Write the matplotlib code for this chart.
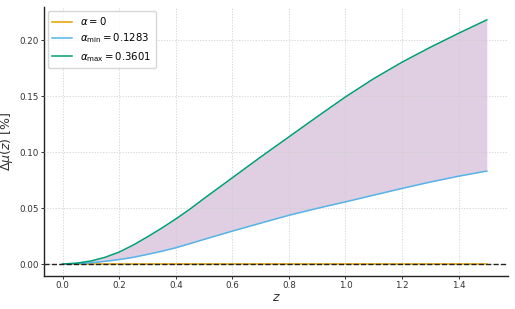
import numpy as np
import matplotlib
matplotlib.use("Agg")
import matplotlib.pyplot as plt

# redshift grid and read-off curves (in %)
z = [0.0, 0.05, 0.1, 0.15, 0.2, 0.25, 0.3, 0.35, 0.4, 0.45, 0.5,
     0.6, 0.7, 0.8, 0.9, 1.0, 1.1, 1.2, 1.3, 1.4, 1.5]
dmu_max = [0.0, 0.0008, 0.0027, 0.006, 0.0107, 0.017, 0.0243, 0.032, 0.0402, 0.049, 0.0585,
           0.077, 0.0955, 0.1135, 0.1315, 0.1492, 0.1655, 0.1802, 0.1935, 0.206, 0.218]
dmu_min = [0.0, 0.0003, 0.0011, 0.0024, 0.004, 0.006, 0.0086, 0.0114, 0.0145, 0.0182, 0.022,
           0.0294, 0.0365, 0.0435, 0.0497, 0.0555, 0.0615, 0.0675, 0.0732, 0.0784, 0.083]
dmu_zero = [0.0] * len(z)

alpha_min = 0.1283
alpha_max = 0.3601

fig = plt.figure(figsize=(5.15, 3.09), dpi=100)
ax = fig.add_axes([44 / 515, 33 / 309, 464 / 515, 269 / 309])

ax.fill_between(z, dmu_min, dmu_max, color="#87438f", alpha=0.25, linewidth=0, zorder=1)
ax.plot(z, dmu_zero, color="#E69F00", lw=1.1, label=r"$\alpha = 0$", zorder=3)
ax.plot(z, dmu_min, color="#56B4E9", lw=1.1, label=r"$\alpha_{\rm min} = %.4f$" % alpha_min, zorder=3)
ax.plot(z, dmu_max, color="#009E73", lw=1.1, label=r"$\alpha_{\rm max} = %.4f$" % alpha_max, zorder=3)
ax.axhline(0, color="#222222", ls="--", lw=1.0, zorder=4)

ax.set_xlim(-0.066, 1.575)
ax.set_ylim(-0.0107, 0.2295)

ax.grid(True, ls=(0, (2, 2)), lw=0.5, color="#cccccc", zorder=0)
ax.set_axisbelow(False)
for s in ["top", "right"]:
    ax.spines[s].set_visible(False)
for s in ["left", "bottom"]:
    ax.spines[s].set_color("#222222")
    ax.spines[s].set_linewidth(1.0)

ax.tick_params(labelsize=6.3, length=2, width=0.7, pad=1.5, colors="#333333")
ax.set_xlabel(r"$z$", fontsize=9, color="#333333", labelpad=1)
ax.set_ylabel(r"$\Delta\mu(z)$ [%]", fontsize=9, color="#333333", labelpad=3)
ax.set_xticks(np.arange(0, 1.41, 0.2))
ax.set_yticks([0.0, 0.05, 0.10, 0.15, 0.20])

leg = ax.legend(loc="upper left", fontsize=7.3, frameon=True, handlelength=2.0,
                borderaxespad=0.4, labelspacing=0.45, handletextpad=0.8)
leg.get_frame().set_edgecolor("#cccccc")

fig.savefig("out.png", dpi=100)
